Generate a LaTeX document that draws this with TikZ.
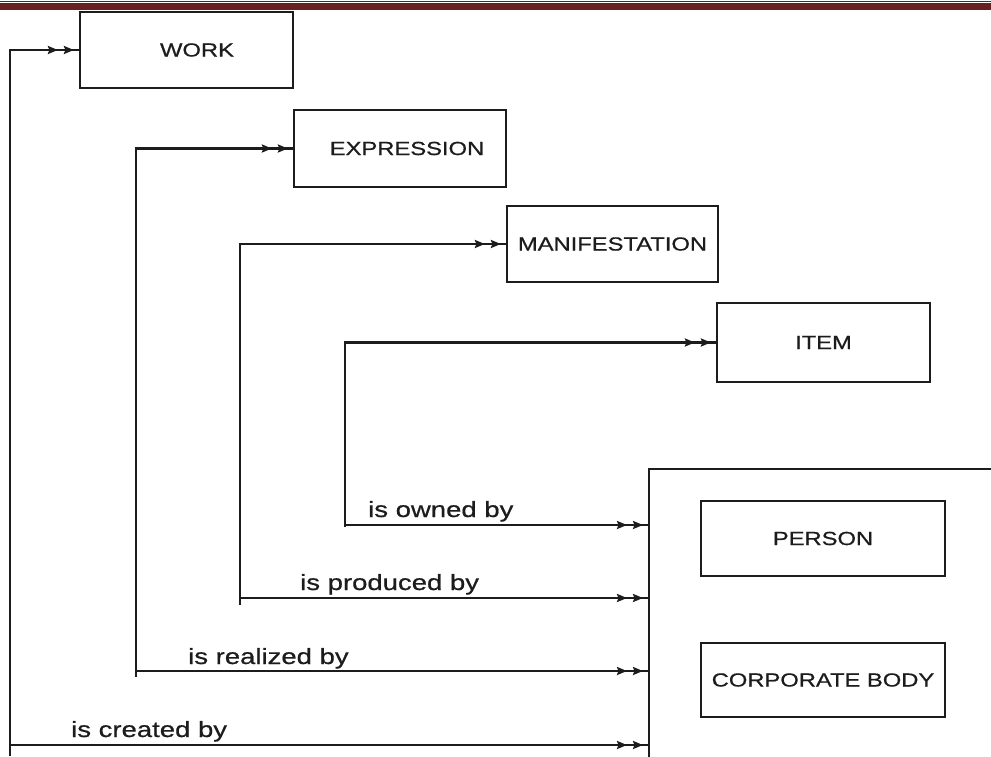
\documentclass[tikz,border=0pt]{standalone}
\usepackage{fontspec}
\setmainfont{Liberation Sans}[FakeStretch=1.25,FakeBold=0.7]
\usetikzlibrary{arrows.meta,decorations.markings}
\definecolor{barred}{RGB}{104,32,32}
\definecolor{ink}{RGB}{28,28,28}
\tikzset{
  entity/.style={draw=ink, line width=2.2pt, rectangle, inner sep=0pt,
    text=ink, font=\fontsize{19}{22}\selectfont},
  rel/.style={text=ink, font=\fontsize{22}{26}\selectfont, inner sep=0pt, anchor=base west},
  wire/.style={draw=ink, line width=2.1pt},
  dblhead/.style={postaction={decorate}, decoration={markings,
    mark=at position -5pt with {\arrow[ink]{Stealth[length=10pt,width=8pt,inset=1.5pt]}},
    mark=at position -21pt with {\arrow[ink]{Stealth[length=10pt,width=8pt,inset=1.5pt]}}}}
}
\begin{document}
\begin{tikzpicture}[x=1pt,y=-1pt]
\useasboundingbox (0,0) rectangle (991,757);
\clip (0,0) rectangle (991,757);
% header rule
\fill[barred] (0,3) rectangle (991,10.5);
\draw[barred, line width=1.1pt] (0,1.2) -- (991,1.2);

% entities of group 1
\node[entity, minimum width=213pt, minimum height=76pt] (work) at (186.5,50) {\hspace*{21pt}WORK};
\node[entity, minimum width=212pt, minimum height=77pt] (expr) at (400,148.5) {\hspace*{14pt}EXPRESSION};
\node[entity, minimum width=211pt, minimum height=76pt] (manif) at (612.5,244) {MANIFESTATION};
\node[entity, minimum width=213pt, minimum height=79pt] (item) at (823.5,342.5) {ITEM};

% group 2 frame with its entities
\node[entity, minimum width=400pt, minimum height=340pt, anchor=north west] (agents) at (648,468) {};
\node[entity, minimum width=244pt, minimum height=75pt] (person) at (823,538.5) {PERSON};
\node[entity, minimum width=244pt, minimum height=74pt] (corp) at (823,680) {CORPORATE BODY};

% bend points of the relationship lines
\coordinate (c0) at (10,50);   \coordinate (c1) at (10,756);  \coordinate (c2) at (10,745);
\coordinate (r0) at (136,148.5); \coordinate (r1) at (136,677); \coordinate (r2) at (136,671);
\coordinate (p0) at (240,244); \coordinate (p1) at (240,605); \coordinate (p2) at (240,598);
\coordinate (o0) at (345,342.5); \coordinate (o1) at (345,527); \coordinate (o2) at (345,525);

% links up to the group 1 entities
\draw[wire, dblhead] (c1) -- (c0) -- (work.west);
\draw[wire, dblhead] (r1) -- (r0) -- (expr.west);
\draw[wire, dblhead] (p1) -- (p0) -- (manif.west);
\draw[wire, dblhead] (o1) -- (o0) -- (item.west);

% links across to the group 2 frame
\draw[wire, dblhead] (o2) -- (o2 -| agents.west);
\draw[wire, dblhead] (p2) -- (p2 -| agents.west);
\draw[wire, dblhead] (r2) -- (r2 -| agents.west);
\draw[wire, dblhead] (c2) -- (c2 -| agents.west);

% relationship names
\node[rel] (owned) at (368,517) {is owned by};
\node[rel] (produced) at (300,590) {is produced by};
\node[rel] (realized) at (188,664) {is realized by};
\node[rel] (created) at (71,737) {is created by};
\end{tikzpicture}
\end{document}
